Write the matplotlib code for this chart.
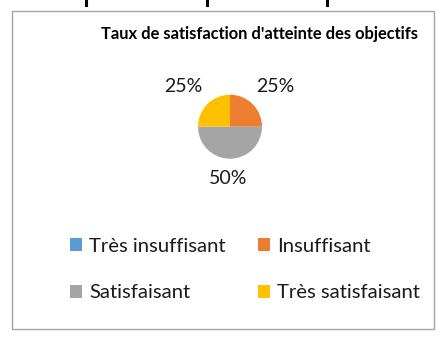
import matplotlib
matplotlib.use("Agg")
import matplotlib.pyplot as plt
from matplotlib.patches import Rectangle
import numpy as np

categories = ["Très insuffisant", "Insuffisant", "Satisfaisant", "Très satisfaisant"]
values = [0, 25, 50, 25]
colors = ["#5B9BD5", "#ED7D31", "#A5A5A5", "#FFC000"]
title = "Taux de satisfaction d'atteinte des objectifs"

plt.rcParams['font.family'] = ['Lato', 'DejaVu Sans']

W, H = 445, 342
fig = plt.figure(figsize=(W / 100, H / 100), dpi=100)

# chart border
fig.patches.append(Rectangle((12 / W, 1 - 329 / H), (434 - 12) / W, (329 - 11) / H,
                             transform=fig.transFigure, fill=False,
                             edgecolor="#A6A6A6", linewidth=1.0))
# remnants of text cut at the top
for x in [85.5, 206.5, 326.5]:
    fig.add_artist(plt.Line2D([x / W, x / W], [1, 1 - 5 / H], transform=fig.transFigure,
                              color="black", linewidth=2.2))

fig.text(418 / W, 1 - 34 / H, title, ha="right", va="center",
         fontsize=11.9, fontweight="bold", color="black")

# pie axes: center (230,126.7), radius 32
cx, cy, r = 230, 126.7, 32
ax = fig.add_axes([(cx - r) / W, 1 - (cy + r) / H, 2 * r / W, 2 * r / H])
wedges, _ = ax.pie(values, colors=colors, startangle=90, counterclock=False,
                   radius=1.0)
ax.set_xlim(-1, 1)
ax.set_ylim(-1, 1)
ax.set_aspect("auto")
ax.axis("off")

# data labels (Excel best-fit positions)
total = sum(values)
label_pos = {1: (275, 86), 2: (228, 178), 3: (183, 86)}
for i, v in enumerate(values):
    if v == 0:
        continue
    px, py = label_pos[i]
    fig.text(px / W, 1 - py / H, f"{round(100 * v / total)}%", ha="center", va="center",
             fontsize=14, color="#1a1a1a")

order = [0, 2, 1, 3]
leg = fig.legend([wedges[i] for i in order], [categories[i] for i in order],
                 ncol=2, loc="upper left", bbox_to_anchor=(70 / W, 1 - 238 / H),
                 frameon=False, fontsize=14.6, handlelength=0.59, handleheight=0.59,
                 handletextpad=0.35, columnspacing=1.58, labelspacing=1.45,
                 borderpad=0, borderaxespad=0)
for t in leg.get_texts():
    t.set_color("#1a1a1a")

fig.savefig("out.png", dpi=100)
